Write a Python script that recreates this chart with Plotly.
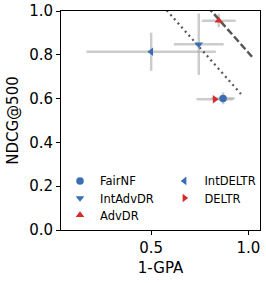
import plotly.graph_objects as go

methods = ["FairNF", "IntAdvDR", "AdvDR", "IntDELTR", "DELTR"]
gpa_x = [0.87, 0.745, 0.848, 0.50, 0.827]
ndcg_y = [0.601, 0.848, 0.956, 0.814, 0.597]
x_err = [0.06, 0.128, 0.087, 0.333, 0.094]
y_err = [0.027, 0.14, 0.03, 0.087, 0.01]
symbols = ["circle", "triangle-down", "triangle-up", "triangle-left", "triangle-right"]
colors = ["#3c6db4", "#3c6db4", "#d62b2b", "#3c6db4", "#d62b2b"]

dashed_x = [0.79, 1.02]
dashed_y = [1.02, 0.79]
dotted_x = [0.58, 0.962]
dotted_y = [1.003, 0.621]

# legend layout: (column, row) for each method
leg_col = [0, 0, 0, 1, 1]
leg_row = [0, 1, 2, 0, 1]

fig = go.Figure()

for i in range(len(methods)):
    fig.add_trace(go.Scatter(
        x=[gpa_x[i]], y=[ndcg_y[i]], mode="markers",
        marker=dict(size=1, opacity=0),
        error_x=dict(type="data", array=[x_err[i]], color="rgba(170,170,170,0.6)", thickness=2.5, width=0),
        error_y=dict(type="data", array=[y_err[i]], color="rgba(170,170,170,0.6)", thickness=2.5, width=0),
        showlegend=False, hoverinfo="skip"))

fig.add_trace(go.Scatter(x=dashed_x, y=dashed_y, mode="lines",
                         line=dict(color="#555555", width=2.5, dash="7px,3px"),
                         showlegend=False))
fig.add_trace(go.Scatter(x=dotted_x, y=dotted_y, mode="lines",
                         line=dict(color="#555555", width=2.2, dash="2px,3.5px"),
                         showlegend=False))

font = "DejaVu Sans"
legends = {}
for i in range(len(methods)):
    lid = "legend" if i == 0 else f"legend{i+1}"
    fig.add_trace(go.Scatter(
        x=[gpa_x[i]], y=[ndcg_y[i]], mode="markers", name=methods[i],
        marker=dict(symbol=symbols[i], size=7.5, color=colors[i], line=dict(width=0)),
        legend=lid))
    legends[lid] = dict(
        font=dict(family=font, size=11.5, color="#000"), bgcolor="rgba(0,0,0,0)",
        yanchor="middle", xanchor="left", itemwidth=30,
        x=[-0.005, 0.52][leg_col[i]],
        y=[0.224, 0.146, 0.068][leg_row[i]])

fig.update_layout(
    width=266, height=283,
    margin=dict(l=61, r=6, t=11, b=53, autoexpand=False),
    paper_bgcolor="white", plot_bgcolor="white",
    font=dict(family=font, size=15, color="#000"),
    xaxis=dict(range=[0.036, 1.06], tickvals=[0.5, 1.0], ticktext=["0.5", "1.0"],
               showgrid=False, zeroline=False, showline=True, linecolor="#000", linewidth=1,
               mirror=True, ticks="outside", ticklen=4, tickcolor="#000", automargin=False,
               title=dict(text="1-GPA", font=dict(size=15), standoff=6),
               tickfont=dict(size=15)),
    yaxis=dict(range=[0, 1.0], tickvals=[0, 0.2, 0.4, 0.6, 0.8, 1.0],
               ticktext=["0.0", "0.2", "0.4", "0.6", "0.8", "1.0"],
               showgrid=False, zeroline=False, showline=True, linecolor="#000", linewidth=1,
               mirror=True, ticks="outside", ticklen=4, tickcolor="#000", automargin=False,
               title=dict(text="NDCG@500", font=dict(size=15), standoff=6),
               tickfont=dict(size=15)),
    **legends,
)

fig.write_html("out.html", config={"displayModeBar": False},
               post_script="document.body.style.margin='0px';document.body.style.overflow='hidden';")
